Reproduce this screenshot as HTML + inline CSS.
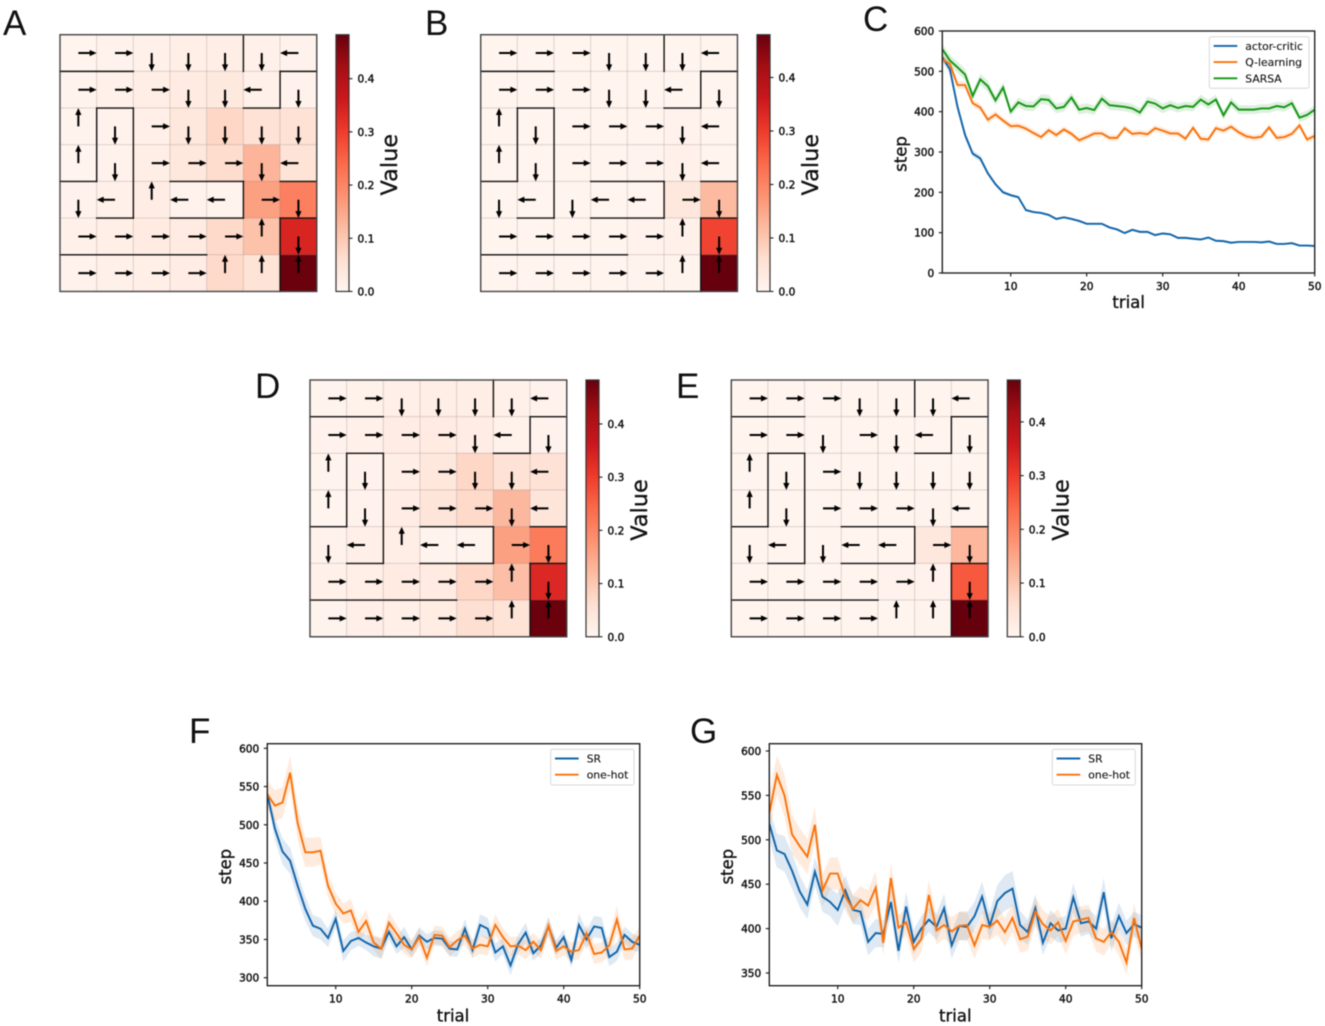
<!DOCTYPE html>
<html lang="en">
<head>
<meta charset="utf-8">
<title>Grid world value maps and learning curves</title>
<style>
html,body{margin:0;padding:0;background:#fff;width:1325px;height:1026px;overflow:hidden}
#figure{position:absolute;left:0;top:0;width:1325px;height:1026px;filter:blur(0.4px)}
text{font-family:"DejaVu Sans","Liberation Sans",sans-serif;fill:#111}
.panel-letter{font-family:"Liberation Sans",sans-serif;font-size:35px;fill:#111}
.tick{font-size:10.6px;stroke:#111;stroke-width:.42px}
.axis-title{font-size:16.5px;stroke:#111;stroke-width:.35px}
.cb-title{font-size:22.4px;stroke:#111;stroke-width:.3px}
.legend-text{font-size:10.8px;stroke:#111;stroke-width:.12px}
</style>
</head>
<body>
<svg id="figure" xmlns="http://www.w3.org/2000/svg" width="1325" height="1026" viewBox="0 0 1325 1026">
  <defs>
    <clipPath id="clip-c"><rect x="942.3" y="31" width="372.4" height="242"/></clipPath>
    <clipPath id="clip-f"><rect x="267.3" y="743.7" width="372.4" height="242"/></clipPath>
    <clipPath id="clip-g"><rect x="769.3" y="743.7" width="372.4" height="242"/></clipPath>
  </defs>
  <text class="panel-letter" x="3" y="35">A</text>
  <text class="panel-letter" x="425" y="35">B</text>
  <text class="panel-letter" x="863" y="31">C</text>
  <text class="panel-letter" x="255" y="398">D</text>
  <text class="panel-letter" x="676" y="398">E</text>
  <text class="panel-letter" x="189" y="743">F</text>
  <text class="panel-letter" x="690" y="743">G</text>
</svg>
<script>
// ---------- heatmap data (rows top to bottom) ----------
var valuesA = [
  [.004,.008,.012,.018,.020,.012,.008],
  [.006,.012,.020,.030,.035,.015,.008],
  [.006,.008,.016,.040,.075,.055,.055],
  [.004,.008,.020,.040,.065,.130,.050],
  [.008,.012,.022,.008,.006,.160,.210],
  [.012,.018,.028,.030,.070,.110,.340],
  [.008,.012,.018,.025,.070,.050,.480]];
var valuesB = [
  [.004,.004,.004,.004,.004,.004,.004],
  [.004,.004,.004,.004,.004,.004,.004],
  [.004,.004,.004,.004,.004,.008,.004],
  [.004,.004,.004,.004,.005,.012,.004],
  [.004,.004,.004,.004,.004,.040,.120],
  [.004,.004,.004,.004,.008,.012,.290],
  [.004,.004,.004,.004,.005,.006,.480]];
var valuesD = [
  [.006,.010,.016,.020,.020,.014,.008],
  [.008,.014,.022,.030,.025,.010,.008],
  [.006,.008,.020,.040,.075,.055,.055],
  [.004,.008,.022,.045,.070,.125,.045],
  [.008,.016,.020,.006,.005,.160,.215],
  [.012,.018,.028,.030,.075,.115,.335],
  [.006,.016,.018,.024,.060,.050,.480]];
var valuesE = [
  [.004,.004,.004,.004,.004,.004,.004],
  [.004,.004,.004,.004,.004,.004,.004],
  [.004,.004,.004,.004,.004,.004,.004],
  [.004,.004,.004,.004,.004,.006,.004],
  [.004,.004,.004,.004,.004,.040,.125],
  [.004,.004,.004,.004,.008,.010,.260],
  [.004,.004,.004,.004,.004,.005,.480]];
var policyA = ["RRDDDDL","RRRDDLD","UDRDDDD","UDRRRDL","DLULLRD","RRRRRUD","RRRRUUU"];
var policyB = ["RRRDDDL","RRRDDLD","UDRRRDL","UDRRRDL","DLDLLRD","RRRRRUD","RRRRRUU"];
var policyD = ["RRDDDDL","RRRRDLD","UDRRDDL","UDRRRDL","DLULLRD","RRRRRUD","RRRRRUU"];
var policyE = ["RRRDDDL","RRDRDLD","UDRDDDD","UDRRRDL","DLDLLRD","RRRRRUD","RRRRUUU"];
var colorbarTicks = [0, 0.1, 0.2, 0.3, 0.4];

// ---------- panel C ----------
var trials = [];
for (var n = 1; n <= 50; n++) trials.push(n);
var actorCritic = [535,505,412,342,296,284,247,220,200,193,188,156,151,149,144,134,138,134,129,122,122,122,113,108,99,107,102,102,94,98,96,87,87,85,83,88,80,79,75,77,77,77,76,78,72,72,74,68,68,67];
var qLearning = [530,518,466,466,421,410,380,393,378,364,365,358,347,337,354,342,356,345,329,337,346,346,335,335,359,345,347,344,359,353,346,346,333,360,333,331,359,353,363,349,339,335,338,361,335,337,345,366,331,340];
var sarsa = [555,527,510,492,439,480,463,428,460,400,423,414,413,431,429,408,412,435,405,409,404,432,416,414,412,408,398,425,420,408,416,409,414,412,430,418,430,391,423,405,405,405,408,408,414,411,421,385,392,405];
var actorCriticErr = [10,12,12,10,8,8,6,5,5,4,4,4,3,3,3,3,3,3,3,3,3,3,3,3,3,3,3,3,3,3,3,3,3,2,2,2,2,2,2,2,2,2,2,2,2,2,2,2,2,2];
var qLearningErr = [9,10,10,9,9,9,9,9,8,8,8,8,8,8,8,8,8,8,8,8,8,8,8,8,8,8,8,8,8,8,8,8,8,8,8,8,8,8,8,8,8,8,8,8,8,8,8,8,8,8];
var sarsaErr = [14,14,14,14,12,14,14,12,13,11,12,12,12,12,13,12,12,12,12,12,12,12,12,11,11,11,11,12,12,12,12,11,11,11,12,12,12,11,12,11,11,11,11,11,11,11,11,11,11,11];
var yTicksC = [0,100,200,300,400,500,600];

// ---------- panel F ----------
var srF = [540,495,465,453,420,390,368,364,352,377,335,348,352,346,341,338,360,341,353,337,355,347,352,351,338,337,364,336,369,364,333,341,316,344,359,332,342,367,339,353,323,369,350,367,365,327,334,356,347,343];
var oneHotF = [540,525,529,568,502,464,464,466,420,397,384,388,360,374,346,338,372,358,343,337,353,326,356,355,340,349,355,338,343,341,369,353,341,342,336,347,336,368,335,341,334,336,358,331,333,342,376,337,338,355];
var srErrF = [8,15,17,17,17,16,14,14,12,12,14,12,10,10,13,13,10,10,14,10,11,10,10,10,10,10,13,10,14,14,12,10,13,12,13,10,10,12,10,10,10,15,12,14,14,12,12,11,11,10];
var oneHotErrF = [18,20,20,22,22,19,19,18,15,14,13,15,13,15,10,14,14,12,12,12,12,12,12,12,12,12,12,12,12,12,14,12,12,12,12,12,12,12,12,12,12,12,12,13,13,13,18,14,14,12];
var yTicksF = [300,350,400,450,500,550,600];

// ---------- panel G ----------
var srG = [518,488,484,465,442,427,464,436,430,421,443,421,419,385,395,394,430,375,425,385,400,410,402,423,381,403,402,414,436,403,431,440,445,404,396,423,384,406,398,400,435,406,408,400,441,389,414,395,405,401];
var oneHotG = [530,573,550,506,493,481,517,443,462,462,436,422,432,426,446,384,457,401,407,377,388,438,398,404,397,403,404,381,404,402,409,396,412,388,391,419,405,398,407,386,408,410,412,389,385,396,385,362,412,377];
var srErrG = [18,19,20,20,18,16,16,17,16,18,17,16,15,15,16,15,16,14,16,14,14,14,15,16,15,16,16,16,17,16,18,20,20,16,14,16,14,15,14,14,16,15,14,14,16,15,15,14,14,14];
var oneHotErrG = [20,22,24,22,20,20,20,18,18,18,16,16,16,17,19,14,18,15,15,15,15,17,16,15,16,16,16,15,16,15,16,16,16,15,16,16,16,16,15,15,16,15,15,15,15,14,15,14,17,15];
var yTicksG = [350,400,450,500,550,600];
var xTicks = [10,20,30,40,50];

// ---------- colormap (stop colors only) ----------
var redsStops = ["#fff5f0","#fee0d2","#fcbba1","#fc9272","#fb6a4a","#ef3b2c","#cb181d","#a50f15","#67000d"];
var blue = "#1265aa", orange = "#f9730c", green = "#149614";

var svg = document.getElementById('figure');
var NS = 'http://www.w3.org/2000/svg';
var defs = svg.querySelector('defs');

function mk(tag, attrs, parent) {
  var el = document.createElementNS(NS, tag);
  for (var k in attrs) el.setAttribute(k, attrs[k]);
  (parent || svg).appendChild(el);
  return el;
}
function hex(c) { return [1,3,5].map(function (i) { return parseInt(c.substr(i,2),16); }); }
function reds(t) {
  t = Math.max(0, Math.min(1, t)) * (redsStops.length - 1);
  var i = Math.min(Math.floor(t), redsStops.length - 2), f = t - i;
  var a = hex(redsStops[i]), b = hex(redsStops[i + 1]);
  return 'rgb(' + [0,1,2].map(function (j) { return Math.round(a[j] + (b[j] - a[j]) * f); }).join(',') + ')';
}

// colorbar gradient
var grad = mk('linearGradient', {id:'reds-gradient', x1:0, y1:1, x2:0, y2:0}, defs);
redsStops.forEach(function (c, i) {
  mk('stop', {offset:(i / (redsStops.length - 1)), 'stop-color':c}, grad);
});

// maze walls in cell units [x1,y1,x2,y2] (layout of the environment, not data)
var walls = [
  [5,0,5,1],[0,1,2,1],[6,1,7,1],[6,1,6,2],[5,2,6,2],
  [1,2,2,2],[1,2,1,4],[2,2,2,5],[0,4,1,4],[1,5,2,5],
  [3,4,5,4],[5,4,5,5],[3,5,5,5],[6,4,7,4],[6,5,7,5],[6,5,6,7],[0,6,4,6]
];

function heatPanel(id, values, policy, gx, gy, cell, cbx, vmax, pad) {
  var g = mk('g', {});
  
  
  values.forEach(function (row, r) {
    row.forEach(function (v, c) {
      var rect = mk('rect', {x:gx + c * cell, y:gy + r * cell, width:cell, height:cell, fill:reds(v / vmax), stroke:'rgba(90,70,70,.14)', 'stroke-width':1}, g);
      
      
    });
  });
  walls.forEach(function (w) {
    var line = mk('line', {x1:gx + w[0] * cell, y1:gy + w[1] * cell, x2:gx + w[2] * cell, y2:gy + w[3] * cell, stroke:'#111', 'stroke-width':1.4, 'stroke-linecap':'square'}, g);
    
    
  });
  var frame = mk('rect', {x:gx, y:gy, width:7 * cell, height:7 * cell, fill:'none', stroke:'#444', 'stroke-width':1.4}, g);
  
  
  var angle = {R:0, D:90, L:180, U:-90};
  var L = cell / 2;
  policy.forEach(function (row, r) {
    row.split('').forEach(function (d, c) {
      var cx = gx + (c + .5) * cell, cy = gy + (r + .5) * cell;
      var path = mk('path', {
        d:'M0,-1L' + (L - 7) + ',-1L' + (L - 7) + ',-3.1L' + L + ',0L' + (L - 7) + ',3.1L' + (L - 7) + ',1L0,1Z',
        transform:'translate(' + cx + ',' + cy + ') rotate(' + angle[d] + ')', fill:'#000'}, g);
      
      
    });
  });
  // colorbar
  var h = 7 * cell, cbw = 13;
  var cb = mk('g', {});
  
  
  var bar = mk('rect', {x:cbx, y:gy, width:cbw, height:h, fill:'url(#reds-gradient)', stroke:'#333', 'stroke-width':1.2}, cb);
  
  
  colorbarTicks.forEach(function (t) {
    var y = gy + h - t / vmax * h;
    var tk = mk('line', {x1:cbx + cbw, x2:cbx + cbw + 3.5, y1:y, y2:y, stroke:'#222', 'stroke-width':1.1}, cb);
    
    
    var tx = mk('text', {x:cbx + cbw + 8.5, y:y + 4, 'class':'tick'}, cb);
    
    
    tx.textContent = t.toFixed(1);
  });
  var vx = cbx + 54, vy = gy + 130;
  var title = mk('text', {x:vx, y:vy, 'class':'cb-title', 'text-anchor':'middle', 'dominant-baseline':'central', transform:'rotate(-90 ' + vx + ' ' + vy + ')'}, cb);
  
  
  title.textContent = 'Value';
}

heatPanel('a', valuesA, policyA, 60, 34.7, 36.68, 336, 0.4826);
heatPanel('b', valuesB, policyB, 480.7, 34.7, 36.68, 757, 0.4800);
heatPanel('d', valuesD, policyD, 310, 380, 36.68, 586, 0.4826);
heatPanel('e', valuesE, policyE, 731.3, 380, 36.68, 1007.3, 0.4780);

function linePanel(cfg) {
  var g = mk('g', {});
  
  
  var xScale = function (t) { return cfg.x0 + (t - 1) / 49 * (cfg.x1 - cfg.x0); };
  var yScale = function (v) { return cfg.yA + (v - cfg.vA) / (cfg.vB - cfg.vA) * (cfg.yB - cfg.yA); };
  cfg.series.forEach(function (s) {
    var up = trials.map(function (t, i) { return xScale(t).toFixed(2) + ',' + yScale(s.values[i] + s.err[i]).toFixed(2); });
    var dn = trials.map(function (t, i) { return xScale(t).toFixed(2) + ',' + yScale(s.values[i] - s.err[i]).toFixed(2); }).reverse();
    var band = mk('polygon', {points:up.concat(dn).join(' '), fill:s.color, 'fill-opacity':.14, 'clip-path':'url(#' + cfg.clip + ')'}, g);
    
    
  });
  cfg.series.forEach(function (s) {
    var pts = trials.map(function (t, i) { return xScale(t).toFixed(2) + ',' + yScale(s.values[i]).toFixed(2); });
    var line = mk('polyline', {points:pts.join(' '), fill:'none', stroke:s.color, 'stroke-width':1.95, 'clip-path':'url(#' + cfg.clip + ')'}, g);
    
    
  });
  var frame = mk('rect', {x:cfg.x0, y:cfg.top, width:cfg.x1 - cfg.x0, height:cfg.bottom - cfg.top, fill:'none', stroke:'#222', 'stroke-width':1.4}, g);
  
  
  xTicks.forEach(function (t) {
    var x = xScale(t);
    var tk = mk('line', {x1:x, x2:x, y1:cfg.bottom, y2:cfg.bottom + 3.5, stroke:'#222', 'stroke-width':1.2}, g);
    
    
    var tx = mk('text', {x:x, y:cfg.bottom + 17, 'class':'tick', 'text-anchor':'middle'}, g);
    
    
    tx.textContent = t;
  });
  cfg.yTicks.forEach(function (v) {
    var y = yScale(v);
    var tk = mk('line', {x1:cfg.x0 - 3.5, x2:cfg.x0, y1:y, y2:y, stroke:'#222', 'stroke-width':1.2}, g);
    
    
    var tx = mk('text', {x:cfg.x0 - 8, y:y + 4, 'class':'tick', 'text-anchor':'end'}, g);
    
    
    tx.textContent = v;
  });
  var xt = mk('text', {x:cfg.xTitleX, y:cfg.xTitleY, 'class':'axis-title', 'text-anchor':'middle'}, g);
  
  
  xt.textContent = 'trial';
  var yt = mk('text', {x:cfg.yTitleX, y:cfg.yTitleY, 'class':'axis-title', 'text-anchor':'middle', 'dominant-baseline':'central', transform:'rotate(-90 ' + cfg.yTitleX + ' ' + cfg.yTitleY + ')'}, g);
  
  
  yt.textContent = 'step';
  // legend
  var lg = mk('g', {}, g);
  
  
  var box = mk('rect', {x:cfg.lx, y:cfg.ly, width:cfg.lw, height:cfg.lh, rx:2, fill:'#fff', 'fill-opacity':.85, stroke:'#d8d8d8', 'stroke-width':1}, lg);
  
  
  cfg.series.forEach(function (s, i) {
    var y = cfg.ly + 9.2 + i * 16.2;
    var sw = mk('line', {x1:cfg.lx + 4.3, x2:cfg.lx + 28, y1:y, y2:y, stroke:s.color, 'stroke-width':1.9}, lg);
    
    
    var tx = mk('text', {x:cfg.lx + 36, y:y + 4, 'class':'legend-text'}, lg);
    
    
    tx.textContent = s.label;
  });
}

linePanel({id:'c', clip:'clip-c', x0:942.3, x1:1314.7, top:31, bottom:273, vA:0, yA:273, vB:600, yB:31, yTicks:yTicksC,
  xTitleX:1128.7, xTitleY:308, yTitleX:901, yTitleY:154, lx:1209.3, ly:36.7, lw:99.7, lh:51.6,
  series:[
    {key:'actor-critic', label:'actor-critic', color:blue, values:actorCritic, err:actorCriticErr},
    {key:'q-learning', label:'Q-learning', color:orange, values:qLearning, err:qLearningErr},
    {key:'sarsa', label:'SARSA', color:green, values:sarsa, err:sarsaErr}]});
linePanel({id:'f', clip:'clip-f', x0:267.3, x1:639.7, top:743.7, bottom:985.7, vA:300, yA:977.7, vB:600, yB:748.3, yTicks:yTicksF,
  xTitleX:453, xTitleY:1021.5, yTitleX:225.5, yTitleY:866.7, lx:550.7, ly:749.3, lw:83.3, lh:35.7,
  series:[
    {key:'sr', label:'SR', color:blue, values:srF, err:srErrF},
    {key:'one-hot', label:'one-hot', color:orange, values:oneHotF, err:oneHotErrF}]});
linePanel({id:'g', clip:'clip-g', x0:769.3, x1:1141.7, top:743.7, bottom:985.7, vA:350, yA:973, vB:600, yB:751, yTicks:yTicksG,
  xTitleX:955.3, xTitleY:1021.5, yTitleX:727.5, yTitleY:866.7, lx:1052.3, ly:749.3, lw:83, lh:35.7,
  series:[
    {key:'sr', label:'SR', color:blue, values:srG, err:srErrG},
    {key:'one-hot', label:'one-hot', color:orange, values:oneHotG, err:oneHotErrG}]});
</script>
</body>
</html>
